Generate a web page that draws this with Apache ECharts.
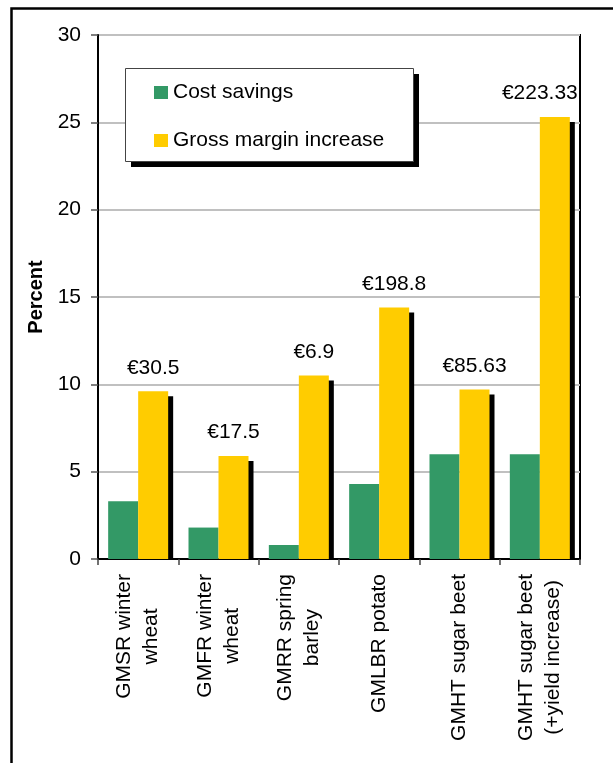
<!DOCTYPE html>
<html>
<head>
<meta charset="utf-8">
<script src="https://cdn.jsdelivr.net/npm/echarts@6/dist/echarts.min.js"></script>
<style>
  html, body { margin: 0; padding: 0; background: #fff; }
  #chart { width: 613px; height: 763px; }
</style>
</head>
<body>
<div id="chart"></div>
<script>
// Crop categories (two-line labels split with \n)
const categories = [
  'GMSR winter\nwheat',
  'GMFR winter\nwheat',
  'GMRR spring\nbarley',
  'GMLBR potato',
  'GMHT sugar beet',
  'GMHT sugar beet\n(+yield increase)'
];
// Percent values per crop
const costSavings = [3.3, 1.8, 0.8, 4.3, 6.0, 6.0];
const grossMarginIncrease = [9.6, 5.9, 10.5, 14.4, 9.7, 25.3];
// Gross margin increase in euro, printed above each yellow bar
const marginLabels = ['€30.5', '€17.5', '€6.9', '€198.8', '€85.63', '€223.33'];
// Value axis ticks
const yMin = 0, yMax = 30, yStep = 5;

const FONT = 'Liberation Sans, Arial, sans-serif';
const GREEN = '#339966';
const YELLOW = '#FFCC00';
const BAR_W = 30;

const chart = echarts.init(document.getElementById('chart'), null, { renderer: 'canvas' });

const marginData = grossMarginIncrease.map((v, i) =>
  i === grossMarginIncrease.length - 1
    ? { value: v, label: { offset: [-15, 0] } }
    : v
);

chart.setOption({
  animation: false,
  backgroundColor: '#fff',
  textStyle: { fontFamily: FONT },
  graphic: [
    // outer frame (left and top edges)
    {
      type: 'polyline', z: 0,
      shape: { points: [[11.5, 763], [11.5, 8.5], [613, 8.5]] },
      style: { stroke: '#000', lineWidth: 2.5, fill: null }
    },
    // legend box shadow
    {
      type: 'rect', z: 20,
      shape: { x: 131, y: 74, width: 288, height: 93 },
      style: { fill: '#000' }
    },
    // legend box
    {
      type: 'rect', z: 21,
      shape: { x: 125.5, y: 68.5, width: 288, height: 93 },
      style: { fill: '#fff', stroke: '#444', lineWidth: 1 }
    }
  ],
  legend: {
    z: 30,
    orient: 'vertical',
    left: 154,
    top: 82,
    padding: 0,
    itemGap: 27,
    itemWidth: 14,
    itemHeight: 13,
    icon: 'rect',
    data: ['Cost savings', 'Gross margin increase'],
    textStyle: { fontSize: 21, color: '#000', fontFamily: FONT }
  },
  grid: {
    left: 98, right: 33, top: 35, bottom: 204,
    show: true, borderColor: '#000', borderWidth: 2,
    backgroundColor: 'transparent'
  },
  xAxis: {
    type: 'category',
    data: categories,
    axisLine: { lineStyle: { color: '#000', width: 2 } },
    axisTick: { show: true, length: 6, lineStyle: { color: '#444', width: 1.5 } },
    axisLabel: {
      rotate: 90,
      margin: 15,
      interval: 0,
      color: '#000',
      formatter: (v) => v.split('\n').map(s => '{c|' + s + '}').join('\n'),
      rich: {
        c: { align: 'center', fontSize: 21, lineHeight: 27, color: '#000', fontFamily: FONT }
      }
    }
  },
  yAxis: {
    type: 'value',
    min: yMin, max: yMax, interval: yStep,
    name: 'Percent',
    nameLocation: 'middle',
    nameGap: 52,
    nameTextStyle: { fontSize: 20, fontWeight: 'bold', color: '#000', fontFamily: FONT },
    axisLine: { show: true, lineStyle: { color: '#000', width: 2 } },
    axisTick: { show: true, length: 7, lineStyle: { color: '#555', width: 1.5 } },
    axisLabel: { fontSize: 21, color: '#000', margin: 17, fontFamily: FONT },
    splitLine: { show: true, lineStyle: { color: '#c0c0c0', width: 2 } }
  },
  series: [
    {
      name: 'Cost savings',
      type: 'bar',
      barWidth: BAR_W,
      barGap: '0%',
      z: 3,
      itemStyle: { color: GREEN },
      data: costSavings
    },
    {
      name: 'Gross margin increase',
      type: 'bar',
      barWidth: BAR_W,
      barGap: '0%',
      z: 3,
      itemStyle: { color: YELLOW },
      label: {
        show: true,
        position: 'top',
        distance: 13,
        fontSize: 21,
        color: '#000',
        fontFamily: FONT,
        formatter: (p) => marginLabels[p.dataIndex]
      },
      data: marginData
    },
    {
      // drop shadow behind each yellow bar
      name: 'shadow',
      type: 'custom',
      z: 2,
      silent: true,
      renderItem: (params, api) => {
        const top = api.coord([api.value(0), api.value(1)]);
        const base = api.coord([api.value(0), 0]);
        return {
          type: 'rect',
          shape: { x: top[0] + 5, y: top[1] + 5, width: BAR_W, height: base[1] - top[1] - 5 },
          style: { fill: '#000' }
        };
      },
      data: grossMarginIncrease.map((v, i) => [i, v])
    }
  ]
});
</script>
</body>
</html>
